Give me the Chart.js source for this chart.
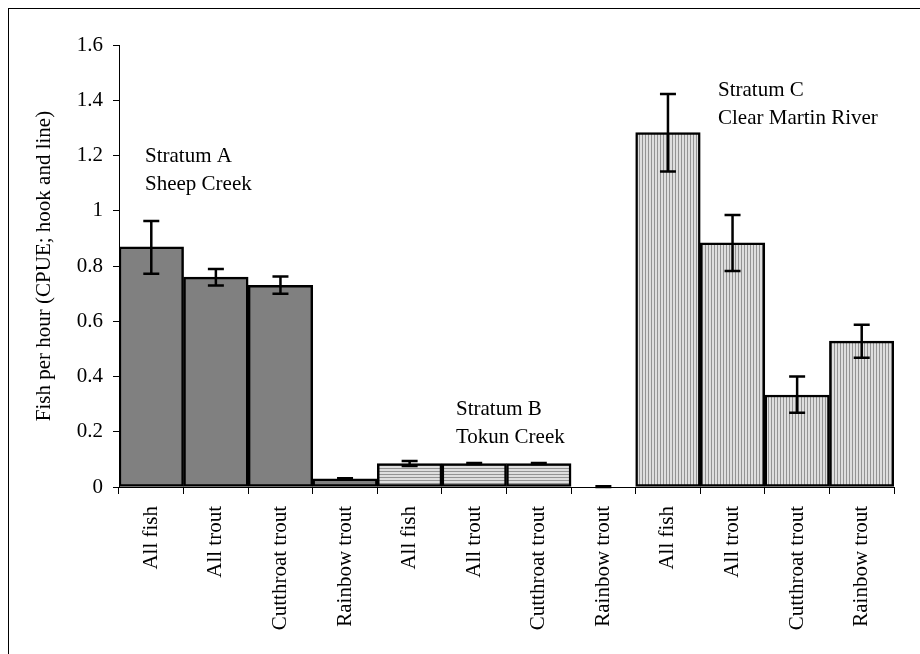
<!DOCTYPE html>
<html>
<head>
<meta charset="utf-8">
<script src="https://cdn.jsdelivr.net/npm/chart.js@4"></script>
<style>
  html, body { margin: 0; padding: 0; background: #fff; }
  #chart { display: block; }
</style>
</head>
<body>
<canvas id="chart" width="920" height="654"></canvas>
<script>
const categories = ['All fish', 'All trout', 'Cutthroat trout', 'Rainbow trout',
                    'All fish', 'All trout', 'Cutthroat trout', 'Rainbow trout',
                    'All fish', 'All trout', 'Cutthroat trout', 'Rainbow trout'];
const strata = ['A', 'A', 'A', 'A', 'B', 'B', 'B', 'B', 'C', 'C', 'C', 'C'];
const cpue = [0.869, 0.760, 0.730, 0.030, 0.085, 0.085, 0.085, 0, 1.283, 0.884, 0.333, 0.528];
const errLow = [0.772, 0.729, 0.700, 0.028, 0.076, 0.083, 0.083, 0, 1.142, 0.782, 0.269, 0.468];
const errHigh = [0.963, 0.789, 0.762, 0.032, 0.094, 0.087, 0.087, 0.003, 1.423, 0.985, 0.400, 0.587];
const yTicks = [0, 0.2, 0.4, 0.6, 0.8, 1, 1.2, 1.4, 1.6];
const labels = [
  { lines: ['Stratum A', 'Sheep Creek'], x: 145, y: 162 },
  { lines: ['Stratum B', 'Tokun Creek'], x: 456, y: 415 },
  { lines: ['Stratum C', 'Clear Martin River'], x: 718, y: 96 },
];

const FONT = "'Liberation Serif', 'Times New Roman', serif";
const SIZE = 21;

function stripes(dir) {
  const c = document.createElement('canvas');
  c.width = 3; c.height = 3;
  const g = c.getContext('2d');
  g.fillStyle = '#dedede';
  g.fillRect(0, 0, 3, 3);
  g.fillStyle = '#939393';
  if (dir === 'h') g.fillRect(0, 0, 3, 1);
  else g.fillRect(0, 0, 1, 3);
  return document.getElementById('chart').getContext('2d').createPattern(c, 'repeat');
}

const fills = { A: '#808080', B: stripes('h'), C: stripes('v') };

const frame = {
  id: 'frame',
  beforeDraw(chart) {
    const ctx = chart.ctx;
    ctx.save();
    ctx.fillStyle = '#fff';
    ctx.fillRect(0, 0, chart.width, chart.height);
    ctx.strokeStyle = '#000';
    ctx.lineWidth = 1;
    ctx.strokeRect(8.5, 8.5, chart.width, chart.height);
    ctx.restore();
  }
};

const errorBars = {
  id: 'errorBars',
  afterDatasetsDraw(chart) {
    const { ctx, scales: { x, y } } = chart;
    ctx.save();
    ctx.strokeStyle = '#000';
    ctx.lineWidth = 2.5;
    errLow.forEach((lo, i) => {
      const px = x.getPixelForValue(i);
      const y1 = y.getPixelForValue(lo);
      const y2 = y.getPixelForValue(errHigh[i]);
      ctx.beginPath();
      ctx.moveTo(px, y1); ctx.lineTo(px, y2);
      ctx.moveTo(px - 8, y1); ctx.lineTo(px + 8, y1);
      ctx.moveTo(px - 8, y2); ctx.lineTo(px + 8, y2);
      ctx.stroke();
    });
    ctx.fillStyle = '#000';
    ctx.font = SIZE + 'px ' + FONT;
    ctx.textBaseline = 'alphabetic';
    labels.forEach(l => {
      l.lines.forEach((t, k) => ctx.fillText(t, l.x, l.y + k * 28));
    });
    ctx.restore();
  }
};

new Chart(document.getElementById('chart'), {
  type: 'bar',
  data: {
    labels: categories,
    datasets: [{
      data: cpue,
      backgroundColor: strata.map(s => fills[s]),
      borderColor: '#000',
      borderWidth: 2.5,
      borderSkipped: false,
      barPercentage: 1,
      categoryPercentage: 1,
    }]
  },
  options: {
    responsive: false,
    animation: false,
    layout: { padding: { left: 32, top: 45, right: 26, bottom: 0 } },
    plugins: { legend: { display: false }, tooltip: { enabled: false } },
    scales: {
      x: {
        offset: true,
        afterFit: s => { s.height = 167; },
        grid: { display: true, offset: true, drawOnChartArea: false, drawTicks: true, tickLength: 7, color: '#000' },
        border: { display: true, color: '#000', width: 1 },
        ticks: { color: '#000', font: { family: FONT, size: SIZE }, minRotation: 90, maxRotation: 90, padding: 12, autoSkip: false }
      },
      y: {
        min: 0, max: 1.6,
        afterFit: s => { s.width = 87; },
        afterBuildTicks: s => { s.ticks = yTicks.map(v => ({ value: v })); },
        grid: { display: true, drawOnChartArea: false, drawTicks: true, tickLength: 6, color: '#000' },
        border: { display: true, color: '#000', width: 1 },
        ticks: { color: '#000', font: { family: FONT, size: SIZE }, padding: 10, callback: v => String(+v.toFixed(1)) },
        title: { display: true, text: 'Fish per hour (CPUE; hook and line)', color: '#000', font: { family: FONT, size: SIZE }, padding: { top: 0, bottom: 0 } }
      }
    }
  },
  plugins: [frame, errorBars]
});
</script>
</body>
</html>
